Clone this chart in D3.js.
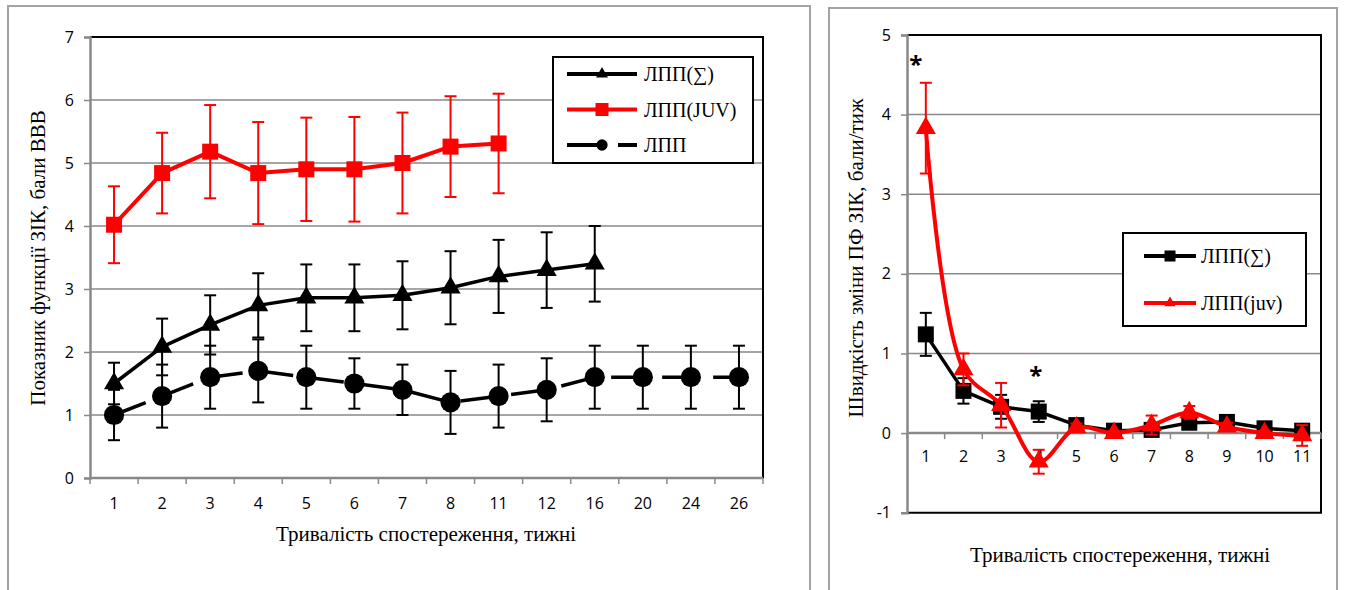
<!DOCTYPE html>
<html>
<head>
<meta charset="utf-8">
<script src="https://cdn.jsdelivr.net/npm/d3@7"></script>
<style>
  body { margin: 0; background: #fff; }
  svg { display: block; }
</style>
</head>
<body>
<svg id="chart" width="1349" height="590"></svg>
<script>
// ---- left panel data ----
const weeksLeft = ["1", "2", "3", "4", "5", "6", "7", "8", "11", "12", "16", "20", "24", "26"];
const sumLeft = [1.5, 2.08, 2.43, 2.74, 2.86, 2.86, 2.9, 3.02, 3.2, 3.3, 3.4];
const sumLeftErr = [0.33, 0.45, 0.47, 0.51, 0.53, 0.53, 0.54, 0.58, 0.58, 0.6, 0.6];
const juvLeft = [4.02, 4.84, 5.18, 4.84, 4.9, 4.9, 5.0, 5.26, 5.31];
const juvLeftErr = [0.61, 0.64, 0.74, 0.81, 0.82, 0.83, 0.8, 0.8, 0.79];
const lppLeft = [1.0, 1.3, 1.6, 1.7, 1.6, 1.5, 1.4, 1.2, 1.3, 1.4, 1.6, 1.6, 1.6, 1.6];
const lppLeftErr = [0.4, 0.5, 0.5, 0.5, 0.5, 0.4, 0.4, 0.5, 0.5, 0.5, 0.5, 0.5, 0.5, 0.5];
const yTicksLeft = [0, 1, 2, 3, 4, 5, 6, 7];

// ---- right panel data ----
const weeksRight = ["1", "2", "3", "4", "5", "6", "7", "8", "9", "10", "11"];
const sumRight = [1.24, 0.53, 0.33, 0.27, 0.1, 0.03, 0.04, 0.13, 0.14, 0.06, 0.03];
const sumRightErr = [0.27, 0.16, 0.15, 0.13, 0.03, 0.03, 0.03, 0.05, 0.04, 0.03, 0.03];
const juvRight = [3.83, 0.8, 0.35, -0.36, 0.07, 0.0, 0.1, 0.26, 0.08, 0.0, -0.03];
const juvRightErr = [0.57, 0.2, 0.28, 0.15, 0.05, 0.03, 0.12, 0.08, 0.05, 0.03, 0.13];
const yTicksRight = [-1, 0, 1, 2, 3, 4, 5];
const starWeeks = ["1", "4"];
const starLevels = [4.67, 0.77];

const serif = "'Liberation Serif', 'Times New Roman', serif";
const sans = "'Open Sans', 'Noto Sans', sans-serif";
const gridColor = "#898989";

const svg = d3.select("#chart");

// рамки двох діаграм
svg.append("rect").attr("x", 8).attr("y", 6).attr("width", 802).attr("height", 600)
  .attr("fill", "none").attr("stroke", "#a3a3a3").attr("stroke-width", 2);
svg.append("rect").attr("x", 829).attr("y", 8).attr("width", 508).attr("height", 600)
  .attr("fill", "none").attr("stroke", "#a3a3a3").attr("stroke-width", 2);

function drawSeries(g, x, y, cats, vals, errs, opt) {
  const pts = vals.map((v, i) => ({ c: cats[i], v: v, e: errs[i] }));
  const cx = d => x(d.c) + x.bandwidth() / 2;

  const line = d3.line().x(cx).y(d => y(d.v)).curve(opt.curve || d3.curveLinear);
  g.append("path").datum(pts)
    .attr("d", line)
    .attr("fill", "none")
    .attr("stroke", opt.color)
    .attr("stroke-width", opt.lw)
    .attr("stroke-linejoin", "round")
    .attr("stroke-dasharray", opt.dash || null);

  // похибки
  const eb = g.append("g").attr("stroke", opt.color).attr("stroke-width", 2);
  eb.selectAll("line.v").data(pts).join("line").attr("class", "v")
    .attr("x1", cx).attr("x2", cx)
    .attr("y1", d => y(d.v - d.e)).attr("y2", d => y(d.v + d.e));
  eb.selectAll("line.t").data(pts).join("line").attr("class", "t")
    .attr("x1", d => cx(d) - 6).attr("x2", d => cx(d) + 6)
    .attr("y1", d => y(d.v + d.e)).attr("y2", d => y(d.v + d.e));
  eb.selectAll("line.b").data(pts).join("line").attr("class", "b")
    .attr("x1", d => cx(d) - 6).attr("x2", d => cx(d) + 6)
    .attr("y1", d => y(d.v - d.e)).attr("y2", d => y(d.v - d.e));

  g.append("g").selectAll("path").data(pts).join("path")
    .attr("transform", d => `translate(${cx(d)},${y(d.v)})`)
    .attr("d", d3.symbol().type(opt.symbol).size(opt.size))
    .attr("fill", opt.color);
}

function drawPanel(p) {
  const g = svg.append("g");
  const x = d3.scaleBand().domain(p.cats).range([p.left, p.right]).padding(0);
  const y = d3.scaleLinear().domain(p.yDomain).range([p.bottom, p.top]);

  // сітка
  g.append("g").selectAll("line").data(p.yTicks.filter(t => t !== p.yDomain[0] && t !== p.yDomain[1] && t !== p.baseValue))
    .join("line")
    .attr("x1", p.left).attr("x2", p.right)
    .attr("y1", d => y(d)).attr("y2", d => y(d))
    .attr("stroke", gridColor).attr("stroke-width", 1.5);

  // верхня і права межі
  g.append("path")
    .attr("d", `M${p.left},${p.top}H${p.right}V${p.bottom}` + (p.closeBottom ? `H${p.left}` : ""))
    .attr("fill", "none").attr("stroke", "#000").attr("stroke-width", 2);

  // вісь Y
  const yAxis = g.append("g").attr("transform", `translate(${p.left},0)`)
    .call(d3.axisLeft(y).tickValues(p.yTicks).tickSize(6).tickPadding(10).tickFormat(d => String(d)));
  yAxis.select(".domain").attr("stroke", gridColor).attr("stroke-width", 2.5);
  yAxis.selectAll(".tick line").attr("stroke", gridColor).attr("stroke-width", 1.5);
  yAxis.selectAll(".tick text").attr("font-family", sans).attr("font-size", 16).attr("fill", "#000");

  // вісь X (на рівні baseValue)
  const by = y(p.baseValue);
  g.append("line").attr("x1", p.left).attr("x2", p.right).attr("y1", by).attr("y2", by)
    .attr("stroke", gridColor).attr("stroke-width", 2.5);
  const bounds = p.cats.map(c => x(c)).concat([p.right]);
  g.append("g").selectAll("line").data(bounds).join("line")
    .attr("x1", d => d).attr("x2", d => d)
    .attr("y1", by).attr("y2", by + 6)
    .attr("stroke", gridColor).attr("stroke-width", 1.5);
  g.append("g").selectAll("text").data(p.cats).join("text")
    .attr("x", d => x(d) + x.bandwidth() / 2)
    .attr("y", by + p.labelGap)
    .attr("text-anchor", "middle")
    .attr("font-family", sans).attr("font-size", 16)
    .text(d => d);

  // підписи осей
  g.append("text")
    .attr("x", p.xTitle[0]).attr("y", p.xTitle[1])
    .attr("text-anchor", "middle")
    .attr("font-family", serif).attr("font-size", 21)
    .text(p.xLabel);
  g.append("text")
    .attr("transform", `translate(${p.yTitle[0]},${p.yTitle[1]}) rotate(-90)`)
    .attr("text-anchor", "middle")
    .attr("font-family", serif).attr("font-size", 21)
    .text(p.yLabel);

  return { g, x, y };
}

// ---------- ліва діаграма ----------
const L = drawPanel({
  cats: weeksLeft, yDomain: [0, 7], yTicks: yTicksLeft, baseValue: 0,
  left: 90, right: 763, top: 37, bottom: 478, closeBottom: false,
  labelGap: 31,
  xLabel: "Тривалість спостереження, тижні", xTitle: [426, 541],
  yLabel: "Показник функції ЗІК, бали ВВВ", yTitle: [45, 258]
});

drawSeries(L.g, L.x, L.y, weeksLeft, sumLeft, sumLeftErr,
  { color: "#000", lw: 3.5, symbol: d3.symbolTriangle, size: 175 });
drawSeries(L.g, L.x, L.y, weeksLeft, juvLeft, juvLeftErr,
  { color: "#ff0000", lw: 4, symbol: d3.symbolSquare, size: 256 });
drawSeries(L.g, L.x, L.y, weeksLeft, lppLeft, lppLeftErr,
  { color: "#000", lw: 3.5, symbol: d3.symbolCircle, size: 320, dash: "34,17" });

// легенда зліва
const legL = svg.append("g");
legL.append("rect").attr("x", 553).attr("y", 57).attr("width", 200).attr("height", 106)
  .attr("fill", "#fff").attr("stroke", "#000").attr("stroke-width", 2);
const legLItems = [
  { name: "ЛПП(∑)", color: "#000", symbol: d3.symbolTriangle, size: 62, dash: null },
  { name: "ЛПП(JUV)", color: "#ff0000", symbol: d3.symbolSquare, size: 169, dash: null },
  { name: "ЛПП", color: "#000", symbol: d3.symbolCircle, size: 100, dash: "34,17" }
];
legL.selectAll("g").data(legLItems).join("g")
  .attr("transform", (d, i) => `translate(567,${74 + i * 35.5})`)
  .each(function (d) {
    const it = d3.select(this);
    it.append("line").attr("x1", 0).attr("x2", 70)
      .attr("stroke", d.color).attr("stroke-width", 4).attr("stroke-dasharray", d.dash);
    it.append("path").attr("transform", "translate(35,0)")
      .attr("d", d3.symbol().type(d.symbol).size(d.size)).attr("fill", d.color);
    it.append("text").attr("x", 77).attr("y", 7)
      .attr("font-family", serif).attr("font-size", 20).text(d.name);
  });

// ---------- права діаграма ----------
const R = drawPanel({
  cats: weeksRight, yDomain: [-1, 5], yTicks: yTicksRight, baseValue: 0,
  left: 907, right: 1321, top: 35, bottom: 512.7, closeBottom: true,
  labelGap: 29,
  xLabel: "Тривалість спостереження, тижні", xTitle: [1120, 562],
  yLabel: "Швидкість зміни ПФ ЗІК, бали/тиж", yTitle: [863, 258]
});

drawSeries(R.g, R.x, R.y, weeksRight, sumRight, sumRightErr,
  { color: "#000", lw: 3.5, symbol: d3.symbolSquare, size: 256 });
drawSeries(R.g, R.x, R.y, weeksRight, juvRight, juvRightErr,
  { color: "#ff0000", lw: 4, symbol: d3.symbolTriangle, size: 175, curve: d3.curveCatmullRom.alpha(0.5) });

// зірочки
R.g.selectAll("text.star").data(starWeeks).join("text").attr("class", "star")
  .attr("x", (d, i) => R.x(d) + R.x.bandwidth() / 2 + (i === 0 ? -10 : -3))
  .attr("y", (d, i) => R.y(starLevels[i]) + 12)
  .attr("text-anchor", "middle")
  .attr("font-family", sans).attr("font-weight", "bold").attr("font-size", 24)
  .text("*");

// легенда справа
const legR = svg.append("g");
legR.append("rect").attr("x", 1123).attr("y", 233).attr("width", 183).attr("height", 93)
  .attr("fill", "#fff").attr("stroke", "#000").attr("stroke-width", 2);
const legRItems = [
  { name: "ЛПП(∑)", color: "#000", symbol: d3.symbolSquare, size: 121 },
  { name: "ЛПП(juv)", color: "#ff0000", symbol: d3.symbolTriangle, size: 55 }
];
legR.selectAll("g").data(legRItems).join("g")
  .attr("transform", (d, i) => `translate(1144,${256 + i * 47})`)
  .each(function (d) {
    const it = d3.select(this);
    it.append("line").attr("x1", 0).attr("x2", 52)
      .attr("stroke", d.color).attr("stroke-width", 4);
    it.append("path").attr("transform", "translate(26,0)")
      .attr("d", d3.symbol().type(d.symbol).size(d.size)).attr("fill", d.color);
    it.append("text").attr("x", 57).attr("y", 7)
      .attr("font-family", serif).attr("font-size", 20).text(d.name);
  });
</script>
</body>
</html>
